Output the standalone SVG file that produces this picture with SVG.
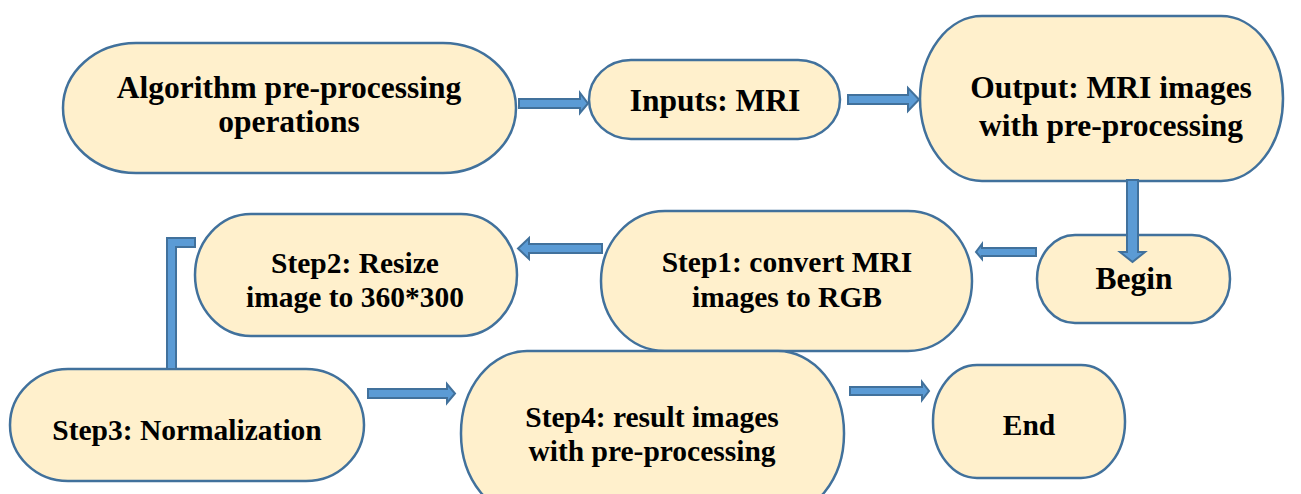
<svg xmlns="http://www.w3.org/2000/svg" width="1301" height="494" viewBox="0 0 1301 494">
<style>
.n{fill:#FFF0CC;stroke:#41719C;stroke-width:2.5}
.t{font-family:"Liberation Serif","Times New Roman",serif;font-weight:bold;fill:#000;text-anchor:middle}
.a{fill:#5B9BD5;stroke:#41719C;stroke-width:2;stroke-linejoin:miter}
.l{font-size:31.5px}
.s{font-size:29.5px}
</style>
<rect width="1301" height="494" fill="#fff"/>
<g id="node-algorithm">
<rect class="n" x="63" y="43" width="453" height="130" rx="73" ry="65"/>
<text class="t l" x="289" y="98">Algorithm pre-processing</text>
<text class="t l" x="289" y="132">operations</text>
</g>
<g id="node-inputs">
<rect class="n" x="589" y="60" width="251" height="79" rx="42" ry="39.5"/>
<text class="t l" x="715" y="111">Inputs: MRI</text>
</g>
<g id="node-output">
<rect class="n" x="920" y="16" width="363" height="165" rx="62" ry="82.5"/>
<text class="t l" x="1111" y="98">Output: MRI images</text>
<text class="t l" x="1111" y="136">with pre-processing</text>
</g>
<g id="node-begin">
<rect class="n" x="1037" y="235" width="193" height="88" rx="38" ry="44"/>
<text class="t l" x="1134" y="289">Begin</text>
</g>
<g id="node-step1">
<rect class="n" x="601" y="211" width="371" height="140" rx="64" ry="70"/>
<text class="t s" x="787" y="272">Step1: convert MRI</text>
<text class="t s" x="787" y="307">images to RGB</text>
</g>
<g id="node-step2">
<rect class="n" x="195" y="214" width="322" height="122" rx="56" ry="61"/>
<text class="t s" x="355" y="273">Step2: Resize</text>
<text class="t s" x="355" y="307">image to 360*300</text>
</g>
<g id="node-step3">
<rect class="n" x="10" y="369" width="354" height="112" rx="58" ry="56"/>
<text class="t s" x="187" y="440">Step3: Normalization</text>
</g>
<g id="node-step4">
<rect class="n" x="461" y="351" width="383" height="165" rx="66" ry="82"/>
<text class="t s" x="652" y="427">Step4: result images</text>
<text class="t s" x="652" y="461">with pre-processing</text>
</g>
<g id="node-end">
<rect class="n" x="933" y="365" width="192" height="113" rx="44" ry="56"/>
<text class="t s" x="1029" y="435">End</text>
</g>
<g id="connectors">
<polygon class="a" points="519,99 580,99 580,93 588,103.5 580,113 580,108 519,108"/>
<polygon class="a" points="848,95 908,95 908,88 919,99.5 908,111 908,104 848,104"/>
<polygon class="a" points="1127,180 1138,180 1138,252 1145,252 1132.5,262 1120,252 1127,252"/>
<polygon class="a" points="602,244 529,244 529,238 518,248.5 529,259 529,253 602,253"/>
<polygon class="a" points="1036,248 982,248 982,244 976,252 982,259 982,256 1036,256"/>
<polygon class="a" points="167,238 195,238 195,247 176,247 176,369 167,369"/>
<polygon class="a" points="368,389 447,389 447,384 455,393.5 447,403 447,398 368,398"/>
<polygon class="a" points="850,387 922,387 922,382 929,391 922,400 922,395 850,395"/>
</g>
</svg>
